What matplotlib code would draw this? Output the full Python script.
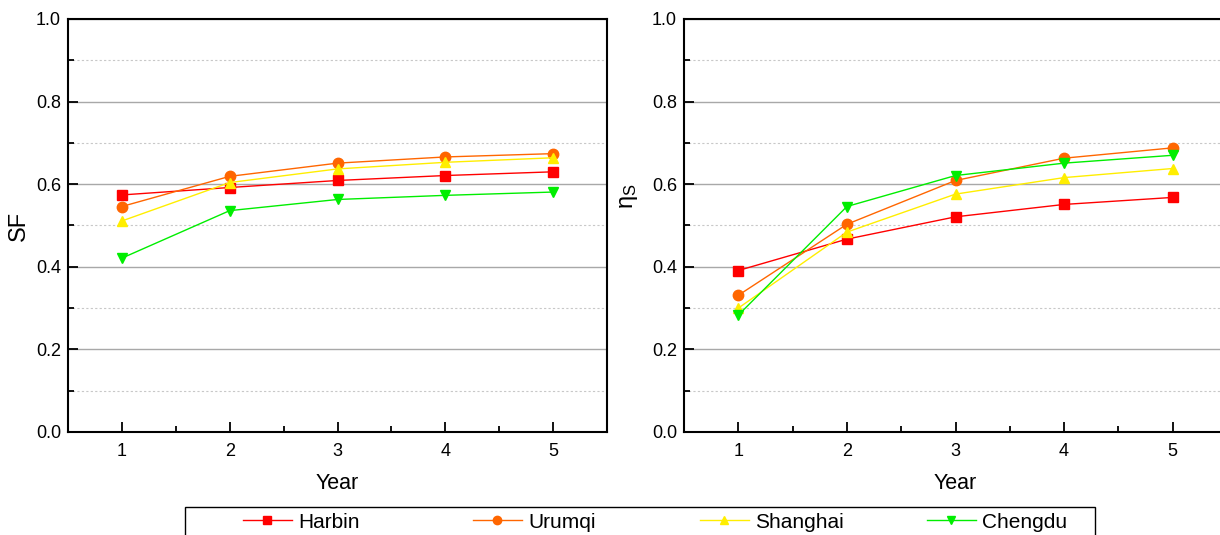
# SF and eta_s over five years for four cities

import numpy as np
import matplotlib.pyplot as plt
from matplotlib.ticker import MultipleLocator
from matplotlib.patches import Rectangle

plt.rcParams['font.family'] = ['Liberation Sans', 'DejaVu Sans']

# data
years = [1, 2, 3, 4, 5]
cities = ['Harbin', 'Urumqi', 'Shanghai', 'Chengdu']

sf_harbin = [0.574, 0.592, 0.609, 0.621, 0.630]
sf_urumqi = [0.546, 0.619, 0.651, 0.666, 0.674]
sf_shanghai = [0.511, 0.604, 0.637, 0.653, 0.664]
sf_chengdu = [0.421, 0.536, 0.563, 0.573, 0.581]

eta_harbin = [0.391, 0.467, 0.521, 0.551, 0.568]
eta_urumqi = [0.331, 0.503, 0.609, 0.663, 0.688]
eta_shanghai = [0.300, 0.484, 0.576, 0.616, 0.638]
eta_chengdu = [0.283, 0.546, 0.621, 0.651, 0.670]

colors = ['#ff0000', '#ff6600', '#ffee00', '#00ee00']
markers = ['s', 'o', '^', 'v']

W, H = 1220, 535
fig = plt.figure(figsize=(W / 100, H / 100), dpi=100)
ax1 = fig.add_axes([68 / W, 1 - 432 / H, 539 / W, 413 / H])
ax2 = fig.add_axes([684 / W, 1 - 432 / H, 543 / W, 413 / H])


def draw_panel(ax, series, ylabel, ylabelpad):
    lines = []
    for vals, c, m, name in zip(series, colors, markers, cities):
        ln, = ax.plot(years, vals, color=c, marker=m, markersize=7.5, lw=1,
                      label=name, zorder=3)
        lines.append(ln)
    ax.set_xlim(0.5, 5.5)
    ax.set_ylim(0, 1.0)
    ax.xaxis.set_major_locator(MultipleLocator(1))
    ax.xaxis.set_minor_locator(MultipleLocator(0.5))
    ax.yaxis.set_major_locator(MultipleLocator(0.2))
    ax.yaxis.set_minor_locator(MultipleLocator(0.1))
    ax.set_yticklabels(['%.1f' % v for v in ax.get_yticks()])
    ax.tick_params(which='both', direction='in', labelsize=13,
                   top=False, right=False, width=1.3)
    ax.tick_params(which='major', length=7)
    ax.tick_params(which='minor', length=4)
    ax.tick_params(axis='x', which='major', pad=8)
    ax.tick_params(axis='y', which='major', pad=5)
    ax.grid(which='major', axis='y', color='#a8a8a8', lw=1, ls='-')
    ax.grid(which='minor', axis='y', color='#c8c8c8', lw=0.8, ls=(0, (2, 2)))
    ax.set_axisbelow(True)
    for sp in ax.spines.values():
        sp.set_linewidth(1.5)
    ax.set_xlabel('Year', fontsize=15.5, labelpad=9)
    ax.set_ylabel(ylabel, fontsize=17, labelpad=ylabelpad)
    return lines


lines = draw_panel(ax1, [sf_harbin, sf_urumqi, sf_shanghai, sf_chengdu], 'SF', 4)
draw_panel(ax2, [eta_harbin, eta_urumqi, eta_shanghai, eta_chengdu],
           r'$\mathregular{\eta_S}$', 8)
ax2.yaxis.set_label_coords(-0.081, 0.57)

# legend: one framed strip along the bottom, entries evenly spaced
frame = Rectangle((185 / W, -0.02), 910 / W, 1 - 507 / H + 0.02,
                  transform=fig.transFigure, fill=False, edgecolor='black', lw=1.0)
fig.patches.append(frame)
entry_x = [243, 473, 700, 927]
for ln, name, x in zip(lines, cities, entry_x):
    fig.legend([ln], [name], loc='center left',
               bbox_to_anchor=(x / W, 1 - 522 / H), frameon=False, fontsize=15,
               handlelength=2.35, handletextpad=0.3, borderpad=0, borderaxespad=0,
               markerscale=0.8)

fig.savefig('out.png', dpi=100)
